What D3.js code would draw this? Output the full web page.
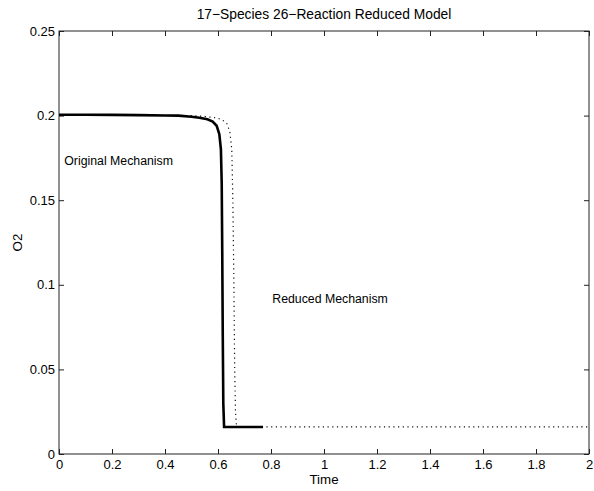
<!DOCTYPE html>
<html><head><meta charset="utf-8">
<script src="https://cdn.jsdelivr.net/npm/d3@7"></script>
<style>body{margin:0;background:#fff}svg{display:block}text{font-family:"Liberation Sans",Arial,sans-serif;fill:#000}</style>
</head><body>
<script>
const origT = [0,0.1,0.2,0.3,0.4,0.45,0.5,0.53,0.56,0.58,0.595,0.605,0.611,0.614,0.616,0.618,0.62,0.623,0.65,0.7,0.77];
const origO2 = [0.2005,0.2005,0.2004,0.2003,0.2001,0.2,0.1993,0.1987,0.1978,0.1965,0.194,0.189,0.18,0.16,0.12,0.07,0.03,0.016,0.016,0.016,0.016];
const redT = [0,0.2,0.4,0.5,0.55,0.6,0.62,0.635,0.645,0.652,0.656,0.66,0.663,0.666,0.669,0.673,0.8,1.2,1.6,2];
const redO2 = [0.2005,0.2004,0.2002,0.2,0.1995,0.1985,0.197,0.195,0.19,0.18,0.15,0.1,0.05,0.025,0.018,0.016,0.016,0.016,0.016,0.016];
const xTicks = [0,0.2,0.4,0.6,0.8,1,1.2,1.4,1.6,1.8,2];
const yTicks = [0,0.05,0.1,0.15,0.2,0.25];
const title = "17\u2212Species 26\u2212Reaction Reduced Model";
const xLabel = "Time", yLabel = "O2";
const labels = [{text:"Original Mechanism", t:0.02, v:0.171},{text:"Reduced Mechanism", t:0.805, v:0.0895}];

const W=594,H=491, m={l:59,r:5,t:31,b:37};
const svg=d3.select("body").append("svg").attr("width",W).attr("height",H);
const x=d3.scaleLinear().domain([0,2]).range([m.l,W-m.r]);
const y=d3.scaleLinear().domain([0,0.25]).range([H-m.b,m.t]);
const fmt=d=>String(d);
const tl=5;
svg.append("rect").attr("x",x(0)).attr("y",y(0.25)).attr("width",x(2)-x(0)).attr("height",y(0)-y(0.25)).attr("fill","none").attr("stroke","#222").attr("stroke-width",1);
const gx=svg.append("g").attr("transform",`translate(0,${y(0)})`).call(d3.axisBottom(x).tickValues(xTicks).tickFormat(fmt).tickSizeInner(-tl).tickSizeOuter(0).tickPadding(6));
const gxt=svg.append("g").attr("transform",`translate(0,${y(0.25)})`).call(d3.axisTop(x).tickValues(xTicks).tickFormat("").tickSizeInner(-tl).tickSizeOuter(0));
const gy=svg.append("g").attr("transform",`translate(${x(0)},0)`).call(d3.axisLeft(y).tickValues(yTicks).tickFormat(fmt).tickSizeInner(-tl).tickSizeOuter(0).tickPadding(4));
const gyr=svg.append("g").attr("transform",`translate(${x(2)},0)`).call(d3.axisRight(y).tickValues(yTicks).tickFormat("").tickSizeInner(-tl).tickSizeOuter(0));
[gx,gxt,gy,gyr].forEach(g=>{g.select(".domain").remove();g.selectAll("line").attr("stroke","#222");g.selectAll("text").attr("font-size",13).attr("font-family","Liberation Sans, Arial, sans-serif").attr("fill","#000");});

const line=d3.line().x(d=>x(d[0])).y(d=>y(d[1]));
svg.append("path").datum(redT.map((t,i)=>[t,redO2[i]])).attr("d",line).attr("fill","none").attr("stroke","#111").attr("stroke-width",1.2).attr("stroke-dasharray","1.2,3.5");
svg.append("path").datum(origT.map((t,i)=>[t,origO2[i]])).attr("d",line).attr("fill","none").attr("stroke","#000").attr("stroke-width",2.6);

svg.append("text").attr("x",(x(0)+x(2))/2).attr("y",19).attr("text-anchor","middle").attr("font-size",13.8).text(title);
svg.append("text").attr("x",(x(0)+x(2))/2).attr("y",H-7).attr("text-anchor","middle").attr("font-size",13.3).text(xLabel);
svg.append("text").attr("transform",`translate(22,${(y(0)+y(0.25))/2}) rotate(-90)`).attr("text-anchor","middle").attr("font-size",13.3).text(yLabel);
labels.forEach(l=>svg.append("text").attr("x",x(l.t)).attr("y",y(l.v)).attr("font-size",12.3).text(l.text));
</script>
</body></html>
